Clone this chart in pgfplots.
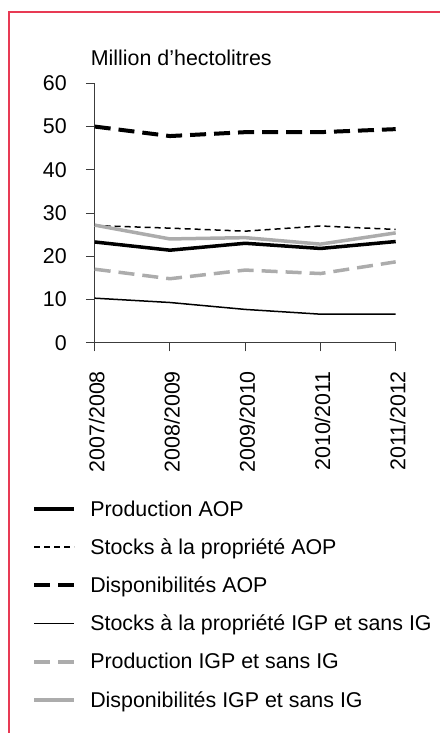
\documentclass[border=0pt]{standalone}
\usepackage{fontspec}
\setmainfont{Liberation Sans}
\usepackage{pgfplots}
\pgfplotsset{compat=1.18}
\definecolor{framered}{RGB}{232,58,84}
\definecolor{lgray}{RGB}{172,172,172}
\definecolor{axgray}{RGB}{60,60,60}

\begin{document}
\begin{tikzpicture}[font=\fontsize{21.4pt}{25pt}\selectfont]
\path[use as bounding box] (0pt,0pt) rectangle (440pt,-733pt);
\draw[framered, line width=1.3pt] (9pt,-733pt) -- (9pt,-12pt) -- (440pt,-12pt);
\node[anchor=west, inner sep=0pt] at (90.7pt,-58pt) {Million d’hectolitres};
\begin{axis}[
  at={(94.7pt,-342.7pt)}, anchor=south west,
  scale only axis, width=301pt, height=259.4pt,
  xmin=0, xmax=4, ymin=0, ymax=60,
  axis x line=bottom, axis y line=left,
  axis line style={-, line width=0.9pt, axgray},
  xtick={0,1,2,3,4},
  xticklabels={2007/2008,2008/2009,2009/2010,2010/2011,2011/2012},
  ytick={0,10,...,60},
  tick align=outside, major tick length=8.7pt,
  tick style={line width=0.9pt, axgray},
  /pgf/number format/assume math mode=true,
  x tick label style={rotate=90, anchor=east, inner sep=0pt, xshift=-19.5pt, yshift=-2pt},
  y tick label style={anchor=east, inner sep=0pt, xshift=-19pt},
  clip=false,
  legend cell align=left,
  legend style={at={(-0.218,-0.6)}, anchor=north west, draw=none, fill=none,
    row sep=21pt, font=\fontsize{21.4pt}{25pt}\selectfont,
    nodes={inner sep=0pt}},
  legend image code/.code={\draw[#1] (0pt,0pt) -- (40pt,0pt);},
  legend style={/tikz/every odd column/.append style={column sep=14pt}},
]
\addplot[black, line width=3.5pt, line join=round] coordinates {
  (0,23.3) (1,21.4) (2,23.0) (3,21.8) (4,23.4)};
\addlegendentry{Production AOP}
\addplot[black, line width=1.5pt, dash pattern=on 6pt off 4pt] coordinates {
  (0,27.1) (1,26.5) (2,25.8) (3,27.0) (4,26.2)};
\addlegendentry{Stocks à la propriété AOP}
\addplot[black, line width=4pt, dash pattern=on 16pt off 8pt] coordinates {
  (0,50.0) (1,47.8) (2,48.7) (3,48.7) (4,49.4)};
\addlegendentry{Disponibilités AOP}
\addplot[black, line width=1.5pt, line join=round] coordinates {
  (0,10.3) (1,9.3) (2,7.7) (3,6.6) (4,6.6)};
\addlegendentry{Stocks à la propriété IGP et sans IG}
\addplot[lgray, line width=3.5pt, dash pattern=on 16pt off 8pt] coordinates {
  (0,17.0) (1,14.8) (2,16.8) (3,16.0) (4,18.7)};
\addlegendentry{Production IGP et sans IG}
\addplot[lgray, line width=3.5pt, line join=round] coordinates {
  (0,27.2) (1,24.0) (2,24.3) (3,22.8) (4,25.4)};
\addlegendentry{Disponibilités IGP et sans IG}
\end{axis}
\end{tikzpicture}
\end{document}
